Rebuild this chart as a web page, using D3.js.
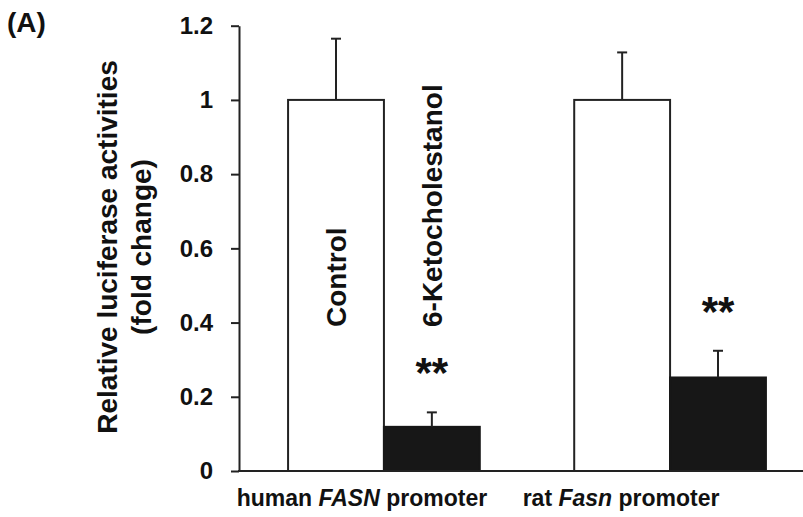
<!DOCTYPE html>
<html lang="en">
<head>
<meta charset="UTF-8">
<script src="https://d3js.org/d3.v7.min.js"></script>
<style>
    body { margin: 0; background: #fff; }
    svg text { font-family: "Liberation Sans", Arial, Helvetica, sans-serif; font-weight: bold; fill: #111; }
</style>
</head>
<body>
<svg id="chart"></svg>
<script>
    // data
    var groups = ["human", "rat"];
    var series = ["Control", "6-Ketocholestanol"];
    var controlMeans = [1.0, 1.0];
    var controlErr = [0.165, 0.128];
    var ketoMeans = [0.119, 0.252];
    var ketoErr = [0.039, 0.072];
    var yTicks = [0, 0.2, 0.4, 0.6, 0.8, 1, 1.2];
    var yTickLabels = ["0", "0.2", "0.4", "0.6", "0.8", "1", "1.2"];
    var groupLabels = [
        [{t: "human ", i: false}, {t: "FASN", i: true}, {t: " promoter", i: false}],
        [{t: "rat ", i: false}, {t: "Fasn", i: true}, {t: " promoter", i: false}]
    ];
    var labelShift = [-22, -49];
    var stars = ["", "**"];

    var W = 803, H = 517;
    var axisX = 239, axisY = 471, topY = 25.7;

    var svg = d3.select("#chart").attr("width", W).attr("height", H);

    var y = d3.scaleLinear().domain([0, 1.2]).range([axisY, topY]);
    var x0 = d3.scaleBand().domain(groups).range([240, 814])
        .paddingInner(0.33).paddingOuter(0.168);
    var x1 = d3.scaleBand().domain(series).range([0, x0.bandwidth()]);

    var rows = [];
    groups.forEach(function(g, i) {
        rows.push({g: g, s: series[0], v: controlMeans[i], e: controlErr[i], star: stars[0]});
        rows.push({g: g, s: series[1], v: ketoMeans[i], e: ketoErr[i], star: stars[1]});
    });

    // y axis
    var yAxis = d3.axisLeft(y).tickValues(yTicks)
        .tickFormat(function(d, i) { return yTickLabels[i]; })
        .tickSize(8).tickSizeOuter(0).tickPadding(18);
    var ya = svg.append("g").attr("transform", "translate(" + axisX + ",0)").call(yAxis);
    ya.select(".domain").attr("stroke", "#222").attr("stroke-width", 2);
    ya.selectAll(".tick line").attr("stroke", "#222").attr("stroke-width", 2);
    ya.selectAll(".tick text").style("font-size", "24px").attr("fill", "#111");

    // bars
    var bars = svg.append("g");
    bars.selectAll("rect").data(rows).enter().append("rect")
        .attr("x", function(d) { return x0(d.g) + x1(d.s); })
        .attr("y", function(d) { return y(d.v); })
        .attr("width", x1.bandwidth())
        .attr("height", function(d) { return y(0) - y(d.v); })
        .attr("fill", function(d) { return d.s === series[0] ? "#fff" : "#171717"; })
        .attr("stroke", function(d) { return d.s === series[0] ? "#222" : "#171717"; })
        .attr("stroke-width", 2);

    // error bars (upper only)
    var errs = svg.append("g").attr("stroke", "#222").attr("stroke-width", 2);
    errs.selectAll("line.v").data(rows).enter().append("line").attr("class", "v")
        .attr("x1", function(d) { return x0(d.g) + x1(d.s) + x1.bandwidth() / 2; })
        .attr("x2", function(d) { return x0(d.g) + x1(d.s) + x1.bandwidth() / 2; })
        .attr("y1", function(d) { return y(d.v); })
        .attr("y2", function(d) { return y(d.v + d.e); });
    errs.selectAll("line.c").data(rows).enter().append("line").attr("class", "c")
        .attr("x1", function(d) { return x0(d.g) + x1(d.s) + x1.bandwidth() / 2 - 5; })
        .attr("x2", function(d) { return x0(d.g) + x1(d.s) + x1.bandwidth() / 2 + 5; })
        .attr("y1", function(d) { return y(d.v + d.e); })
        .attr("y2", function(d) { return y(d.v + d.e); });

    // x axis line
    svg.append("line").attr("x1", axisX - 1).attr("x2", W).attr("y1", axisY).attr("y2", axisY)
        .attr("stroke", "#222").attr("stroke-width", 2);

    // significance stars
    svg.selectAll("text.star").data(rows.filter(function(d) { return d.star; })).enter()
        .append("text").attr("class", "star")
        .attr("x", function(d) { return x0(d.g) + x1(d.s) + x1.bandwidth() / 2; })
        .attr("y", function(d) { return y(d.v + d.e) - 25; })
        .attr("text-anchor", "middle")
        .style("font-size", "42px")
        .text(function(d) { return d.star; });

    // series names inside first group
    series.forEach(function(s) {
        var cx = x0(groups[0]) + x1(s) + x1.bandwidth() / 2;
        svg.append("text")
            .attr("transform", "translate(" + cx + "," + y(0.388) + ") rotate(-90)")
            .attr("dy", "0.35em")
            .style("font-size", "28px")
            .text(s);
    });

    // group labels
    groupLabels.forEach(function(parts, i) {
        var t = svg.append("text")
            .attr("x", x0(groups[i]) + x0.bandwidth() / 2 + labelShift[i])
            .attr("y", 506)
            .attr("text-anchor", "middle")
            .style("font-size", "23px");
        parts.forEach(function(p) {
            t.append("tspan").style("font-style", p.i ? "italic" : "normal").text(p.t);
        });
    });

    // y axis title
    var yt = svg.append("text")
        .attr("transform", "translate(0,247) rotate(-90)")
        .attr("text-anchor", "middle")
        .style("font-size", "28px");
    yt.append("tspan").attr("x", 0).attr("y", 107).attr("dy", "0.35em").text("Relative luciferase activities");
    yt.append("tspan").attr("x", 0).attr("y", 141).attr("dy", "0.35em").text("(fold change)");

    // panel letter
    svg.append("text").attr("x", 7).attr("y", 32).style("font-size", "28px").text("(A)");
</script>
</body>
</html>
